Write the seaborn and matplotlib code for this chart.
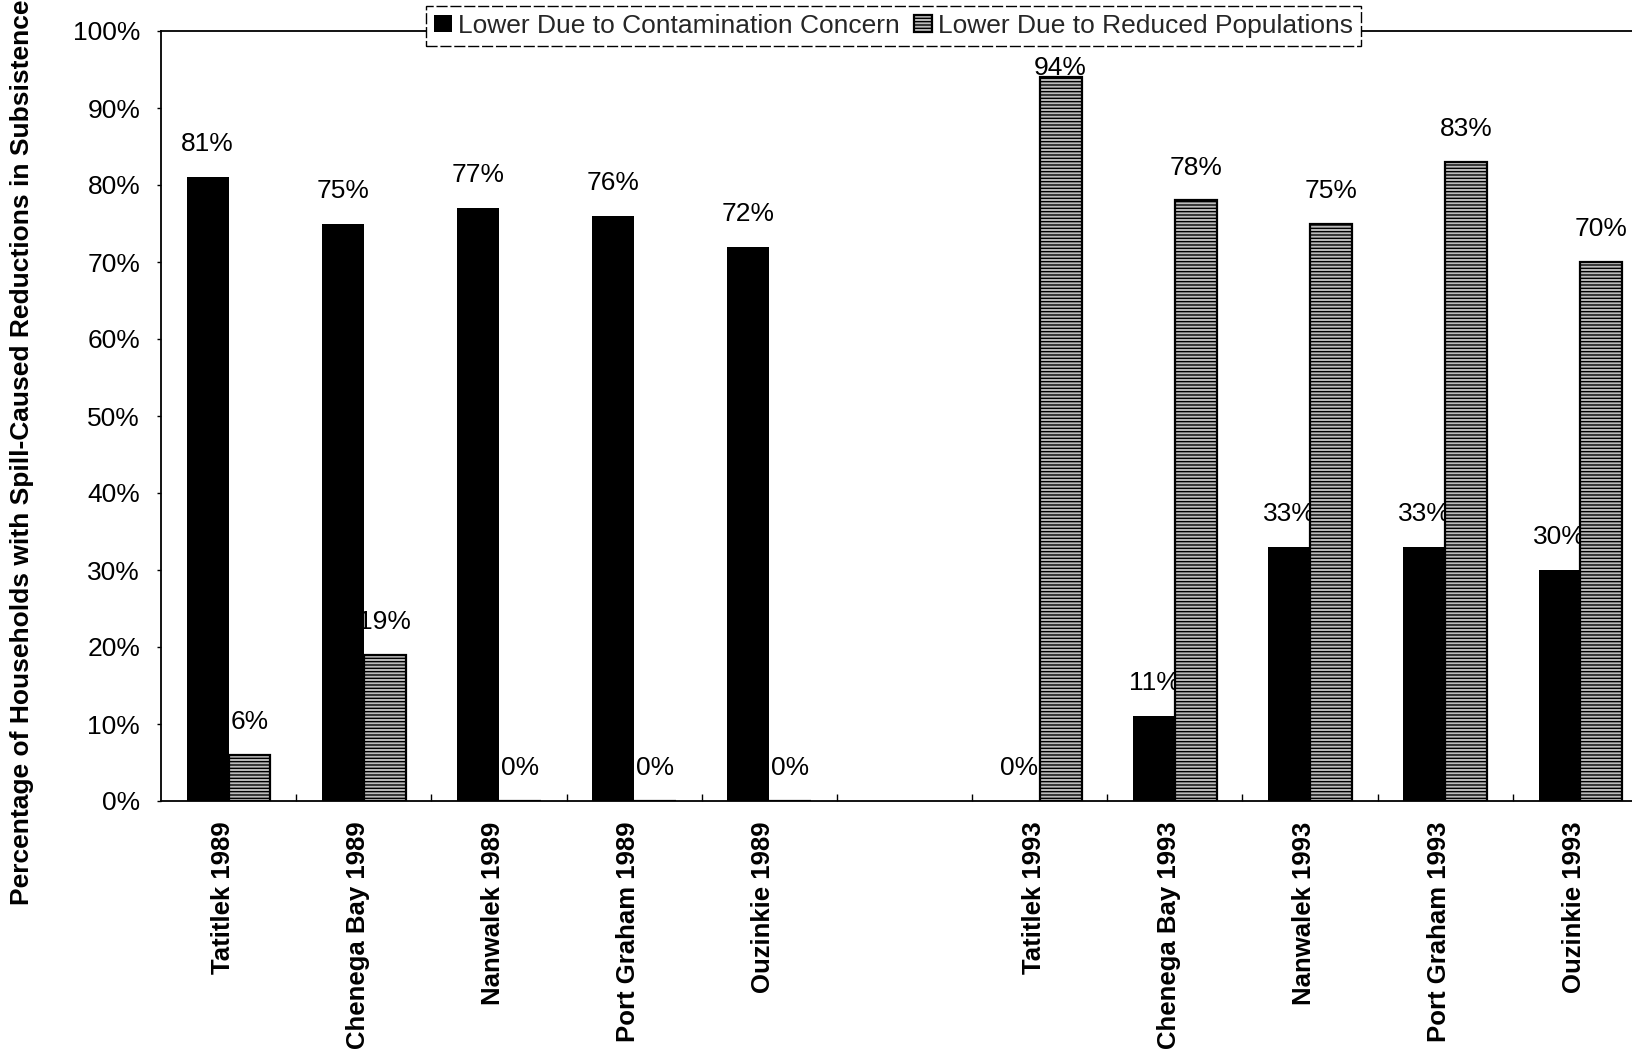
import numpy as np
import pandas as pd
import matplotlib
matplotlib.use("Agg")
import matplotlib.pyplot as plt
import matplotlib.transforms as mtransforms
from matplotlib.ticker import FuncFormatter, FixedLocator
import seaborn as sns

# ---------------- data ----------------
communities = ["Tatitlek 1989", "Chenega Bay 1989", "Nanwalek 1989", "Port Graham 1989",
               "Ouzinkie 1989", " ", "Tatitlek 1993", "Chenega Bay 1993", "Nanwalek 1993",
               "Port Graham 1993", "Ouzinkie 1993"]
data_communities = [c for c in communities if c.strip()]
contamination = [81, 75, 77, 76, 72, 0, 11, 33, 33, 30]
reduced = [6, 19, 0, 0, 0, 94, 78, 75, 83, 70]
series = ["Lower Due to Contamination Concern", "Lower Due to Reduced Populations"]
y_label = "Percentage of Households with Spill-Caused Reductions in Subsistence"
y_ticks = [0, 10, 20, 30, 40, 50, 60, 70, 80, 90, 100]

df = pd.DataFrame({
    "community": data_communities * 2,
    "reason": [series[0]] * len(contamination) + [series[1]] * len(reduced),
    "pct": contamination + reduced,
})

# ---------------- style ----------------
sns.set_theme(style="white")
plt.rcParams["font.family"] = ["Liberation Sans", "DejaVu Sans"]
plt.rcParams["hatch.linewidth"] = 1.0

W, H = 1632, 1057
fig = plt.figure(figsize=(W / 100, H / 100), dpi=100)
ax = fig.add_axes([161 / W, 256 / H, 1487 / W, 770 / H])

sns.barplot(data=df, x="community", y="pct", hue="reason", order=communities,
            hue_order=series, palette=["black", "#bcbcbc"], saturation=1,
            width=0.62, errorbar=None, legend=False, ax=ax)

cont_bars, red_bars = ax.containers[0], ax.containers[1]
for p in cont_bars:
    p.set_facecolor("black")
    p.set_edgecolor("black")
    p.set_linewidth(0)
    p.set_zorder(3)
for p in red_bars:
    p.set_facecolor("#bcbcbc")
    p.set_edgecolor("black")
    p.set_hatch("-----")
    p.set_linewidth(1.6)
    p.set_zorder(3)

# value labels (drawn beneath the bars, as in the reference)
for cont in (cont_bars, red_bars):
    labs = [f"{p.get_height():.0f}%" for p in cont]
    anns = ax.bar_label(cont, labels=labs, padding=15, fontsize=19, color="black")
    for a, p in zip(anns, cont):
        a.set_zorder(2)
        if p.get_height() > 90:
            a.xyann = (0, -2)

# ---------------- axes ----------------
ax.set_ylim(0, 100)
ax.set_xlim(-0.5, len(communities) - 0.5)
ax.yaxis.set_major_locator(FixedLocator(y_ticks))
ax.yaxis.set_major_formatter(FuncFormatter(lambda v, p: f"{v:.0f}%"))
ax.tick_params(axis="y", labelsize=19, length=3, width=1, direction="out", pad=12,
               left=True, color="black", labelcolor="black")

ax.set_xticks(range(len(communities)))
ax.set_xticklabels(communities, rotation=90, fontsize=18.5, fontweight="bold", color="black")
ax.tick_params(axis="x", which="major", length=0, pad=15)
ax.xaxis.set_minor_locator(FixedLocator(np.arange(0.5, len(communities) - 1, 1)))
ax.tick_params(axis="x", which="minor", direction="in", length=5, width=1,
               bottom=True, color="black")
offset = mtransforms.ScaledTranslation(-6 / 100, 0, fig.dpi_scale_trans)
for lbl in ax.get_xticklabels():
    lbl.set_transform(lbl.get_transform() + offset)

for s in ax.spines.values():
    s.set_visible(True)
    s.set_color("black")
    s.set_linewidth(1.3)

ax.set_xlabel("")
ax.set_ylabel(y_label, fontsize=19, fontweight="bold", color="black", ha="left", va="center")
ax.yaxis.set_label_coords((22 - 161) / 1487, (152 - 256) / 770)

leg = ax.legend([cont_bars, red_bars], series, loc="center", bbox_to_anchor=(0.4926, 1.007),
                ncol=2, fontsize=19, frameon=True, fancybox=False, edgecolor="black",
                framealpha=1, handlelength=0.68, handleheight=0.65, handletextpad=0.23,
                columnspacing=0.53, borderpad=0.3, borderaxespad=0)
leg.get_frame().set_linewidth(1.0)
leg.get_frame().set_linestyle((0, (8, 2)))
leg.set_zorder(10)

fig.savefig("out.png", dpi=100)
